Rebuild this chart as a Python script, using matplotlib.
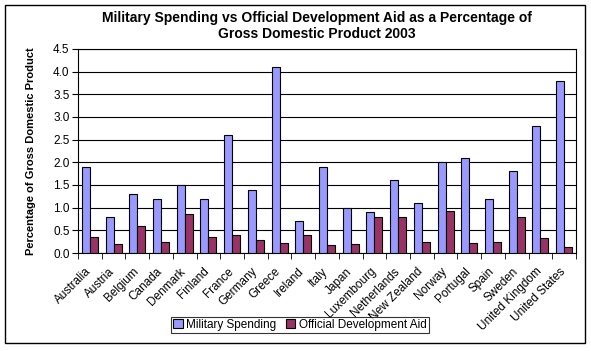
import matplotlib
matplotlib.use("Agg")
import matplotlib.pyplot as plt
import matplotlib.transforms as mtransforms
import numpy as np
from matplotlib.patches import Rectangle

countries = ["Australia", "Austria", "Belgium", "Canada", "Denmark", "Finland", "France",
             "Germany", "Greece", "Ireland", "Italy", "Japan", "Luxembourg", "Netherlands",
             "New Zealand", "Norway", "Portugal", "Spain", "Sweden", "United Kingdom",
             "United States"]
military = [1.9, 0.8, 1.3, 1.2, 1.5, 1.2, 2.6, 1.4, 4.1, 0.7, 1.9, 1.0, 0.9, 1.6,
            1.1, 2.0, 2.1, 1.2, 1.8, 2.8, 3.8]
aid = [0.35, 0.20, 0.60, 0.25, 0.85, 0.35, 0.40, 0.28, 0.22, 0.39, 0.17, 0.20, 0.80, 0.80,
       0.25, 0.92, 0.22, 0.25, 0.79, 0.34, 0.14]
yticks = [0.0, 0.5, 1.0, 1.5, 2.0, 2.5, 3.0, 3.5, 4.0, 4.5]

plt.rcParams['font.family'] = ['Liberation Sans', 'DejaVu Sans']

W, H = 591, 351
fig = plt.figure(figsize=(W / 100, H / 100), dpi=100)
ax = fig.add_axes([78 / W, 1 - 253 / H, (576 - 78) / W, (253 - 49) / H])

x = np.arange(len(countries))
bw = 0.34
ax.bar(x - bw / 2, military, width=bw, color="#9999FF", edgecolor="black", linewidth=0.8,
       label="Military Spending", zorder=3)
ax.bar(x + bw / 2, aid, width=bw, color="#993366", edgecolor="black", linewidth=0.8,
       label="Official Development Aid", zorder=3)

ax.set_xlim(-0.5, len(countries) - 0.5)
ax.set_ylim(0, 4.5)
ax.set_yticks(yticks)
ax.set_yticklabels([f"{v:.1f}" for v in yticks], fontsize=8.5)
ax.yaxis.grid(True, color="black", linewidth=0.8, zorder=0)
ax.set_axisbelow(True)

ax.set_xticks(x)
ax.set_xticklabels(countries, rotation=45, ha="right", rotation_mode="anchor", fontsize=8.5)
ax.tick_params(axis="x", which="major", length=0, pad=9)
offset = mtransforms.ScaledTranslation(-5 / 100, 0, fig.dpi_scale_trans)
for lbl in ax.get_xticklabels():
    lbl.set_transform(lbl.get_transform() + offset)
ax.set_xticks(np.arange(-0.5, len(countries), 1.0), minor=True)
ax.tick_params(axis="x", which="minor", length=4, color="black", direction="out")
ax.tick_params(axis="y", length=4, color="black", direction="out", pad=2)

for s in ax.spines.values():
    s.set_color("black")
    s.set_linewidth(0.8)

ax.set_ylabel("Percentage of Gross Domestic Product", fontsize=8, fontweight="bold", labelpad=12)

fig.text(317 / W, 1 - 26 / H,
         "Military Spending vs Official Development Aid as a Percentage of\nGross Domestic Product 2003",
         ha="center", va="center", fontsize=10, fontweight="bold", linespacing=1.15)

leg = fig.legend(loc="center", bbox_to_anchor=(300 / W, 1 - 325 / H), ncol=2, fontsize=8.5,
                 frameon=True, fancybox=False, edgecolor="black", handlelength=0.8,
                 handleheight=0.8, handletextpad=0.3, columnspacing=0.8, borderpad=0.2,
                 borderaxespad=0)
leg.get_frame().set_linewidth(0.8)

fig.patches.append(Rectangle((5 / W, 8 / H), 580 / W, 338 / H, transform=fig.transFigure,
                             fill=False, edgecolor="black", linewidth=1.0))

fig.savefig("out.png", dpi=100)
